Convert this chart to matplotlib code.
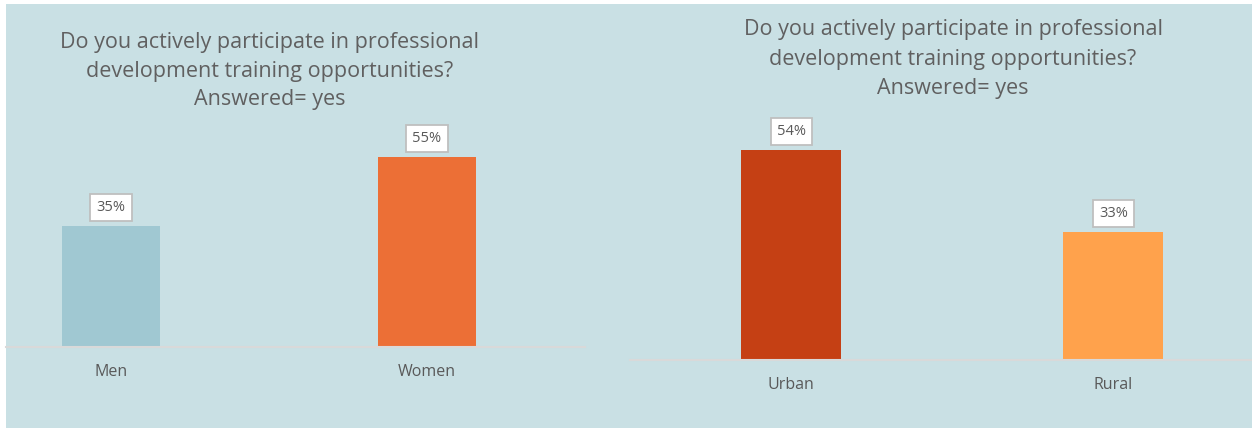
import matplotlib
matplotlib.use("Agg")
import matplotlib.pyplot as plt
from matplotlib.patches import Rectangle

plt.rcParams['font.family'] = ['Open Sans', 'DejaVu Sans']

# survey answers, share answering "yes" (%)
gender_labels = ["Men", "Women"]
gender_values = [35, 55]
area_labels = ["Urban", "Rural"]
area_values = [54, 33]

title = ("Do you actively participate in professional\n"
         "development training opportunities?\n"
         "Answered= yes")

bg = '#C9E0E4'
grey_text = '#595959'
W, H = 1252, 428

fig = plt.figure(figsize=(W / 100, H / 100), dpi=100, facecolor='white')
# panel background
fig.patches.append(Rectangle((6 / W, 0), 1 - 6 / W, (H - 4) / H,
                             transform=fig.transFigure, facecolor=bg,
                             edgecolor='none', zorder=-5))


def px_axes(x0, x1, y_base, height):
    # axes placed in pixel units measured from top-left
    ax = fig.add_axes([x0 / W, (H - y_base) / H, (x1 - x0) / W, height / H])
    ax.set_zorder(2)
    return ax


def draw_panel(ax, labels, values, colors, xlim):
    ax.set_facecolor('none')
    bars = ax.bar(range(len(values)), values, width=0.31, color=colors, zorder=2)
    ax.set_ylim(0, 60)
    ax.set_xlim(*xlim)
    ax.set_xticks(range(len(labels)), labels)
    ax.tick_params(axis='x', length=0, pad=12, labelsize=11.5, labelcolor=grey_text)
    ax.set_yticks([])
    for side in ['top', 'right', 'left']:
        ax.spines[side].set_visible(False)
    ax.spines['bottom'].set_color('#D9D9D9')
    ax.spines['bottom'].set_linewidth(1.5)
    ax.bar_label(bars, labels=[f"{v}%" for v in values], padding=8,
                 fontsize=10.5, color=grey_text,
                 bbox=dict(boxstyle='square,pad=0.42', facecolor='white',
                           edgecolor='#BFBFBF', linewidth=1.3))


ax1 = px_axes(6, 585, 347, 207)
draw_panel(ax1, gender_labels, gender_values, ['#A0C8D2', '#EC6F36'], (-0.332, 1.5))

ax2 = px_axes(630, 1252, 360, 233)
draw_panel(ax2, area_labels, area_values, ['#C54014', '#FFA24C'], (-0.5, 1.43))

fig.text(270 / W, 1 - 71 / H, title, ha='center', va='center', fontsize=15.5,
         color='#606060', linespacing=1.45)
fig.text(953 / W, 1 - 59 / H, title, ha='center', va='center', fontsize=15.5,
         color='#606060', linespacing=1.55)

fig.savefig('out.png', dpi=100, facecolor='white')
